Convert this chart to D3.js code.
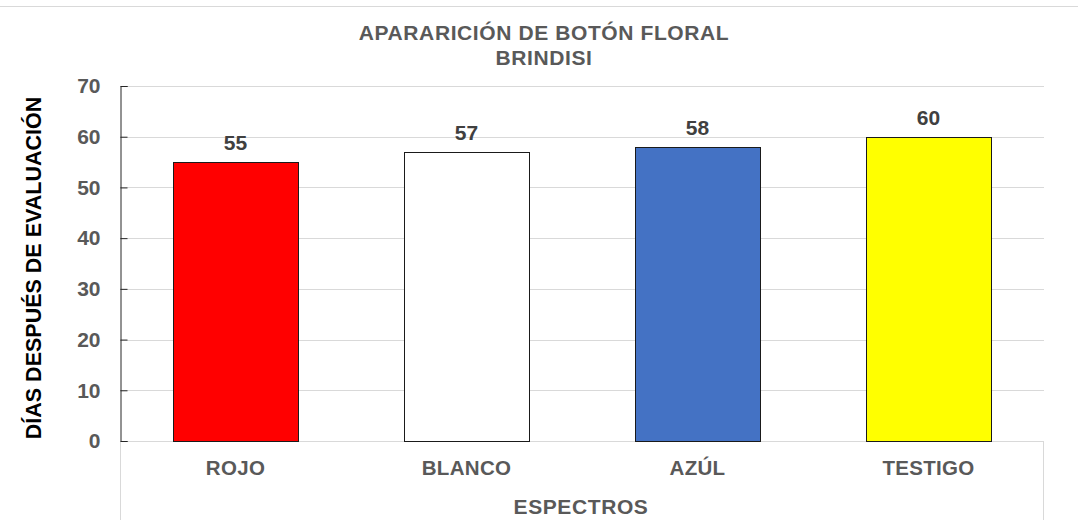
<!DOCTYPE html>
<html>
  <head>
    <meta charset="utf-8">
    <script src="https://d3js.org/d3.v7.min.js"></script>
    <style>
      body { margin: 0px; background: #fff; }
      text { font-family: 'Liberation Sans', Arial, sans-serif; font-weight: bold; }
    </style>
  </head>
  <body>
    <svg width="1078" height="523"></svg>
    <script>
      const categories = ['ROJO', 'BLANCO', 'AZÚL', 'TESTIGO'];
      const values = [55, 57, 58, 60];
      const colors = ['#ff0000', '#ffffff', '#4472c4', '#ffff00'];
      const yTicks = [0, 10, 20, 30, 40, 50, 60, 70];

      const svg = d3.select('svg');
      const plotLeft = 120, plotRight = 1044, plotTop = 86, plotBottom = 441;

      // chart frame line at the top
      svg.append('line')
          .attr('x1', 0).attr('x2', 1078).attr('y1', 6.5).attr('y2', 6.5)
          .attr('stroke', '#d9d9d9');

      const x = d3.scaleBand().domain(categories).range([plotLeft, plotRight]).paddingInner(0.46).paddingOuter(0.23);
      const y = d3.scaleLinear().domain([0, 70]).range([plotBottom, plotTop]);

      // gridlines
      svg.append('g').selectAll('line').data(yTicks).enter().append('line')
          .attr('x1', plotLeft).attr('x2', plotRight)
          .attr('y1', d => Math.round(y(d)) + 0.5).attr('y2', d => Math.round(y(d)) + 0.5)
          .attr('stroke', '#d9d9d9');

      // category separator lines below axis
      svg.append('line').attr('x1', plotLeft + 0.5).attr('x2', plotLeft + 0.5).attr('y1', plotBottom).attr('y2', 520).attr('stroke', '#d9d9d9');
      svg.append('line').attr('x1', plotRight - 0.5).attr('x2', plotRight - 0.5).attr('y1', plotBottom).attr('y2', 520).attr('stroke', '#d9d9d9');

      // bars
      svg.append('g').selectAll('rect').data(values).enter().append('rect')
          .attr('x', (d, i) => Math.round(x(categories[i])) + 0.5)
          .attr('y', d => Math.round(y(d)) + 0.5)
          .attr('width', Math.round(x.bandwidth()))
          .attr('height', d => Math.round(y(0)) - Math.round(y(d)))
          .attr('fill', (d, i) => colors[i])
          .attr('stroke', '#1a1a1a')
          .attr('stroke-width', 1);

      // value labels
      svg.append('g').selectAll('text').data(values).enter().append('text')
          .attr('x', (d, i) => x(categories[i]) + x.bandwidth() / 2)
          .attr('y', d => y(d) - 12)
          .attr('text-anchor', 'middle')
          .attr('font-size', 21)
          .attr('fill', '#404040')
          .text(d => d);

      // y axis
      const yAxis = d3.axisLeft(y).tickValues(yTicks).tickSize(-7).tickPadding(20);
      const yAxisG = svg.append('g').attr('transform', `translate(${plotLeft + 0.5},0)`).call(yAxis);
      yAxisG.select('.domain').attr('stroke', '#262626');
      yAxisG.selectAll('.tick line').attr('stroke', '#262626');
      yAxisG.selectAll('.tick text')
          .attr('font-size', 21)
          .attr('fill', '#595959')
          .attr('font-family', "'Liberation Sans', Arial, sans-serif")
          .attr('font-weight', 'bold');

      // x labels
      svg.append('g').selectAll('text').data(categories).enter().append('text')
          .attr('x', d => x(d) + x.bandwidth() / 2)
          .attr('y', 475)
          .attr('text-anchor', 'middle')
          .attr('font-size', 20.5)
          .attr('letter-spacing', 0.3)
          .attr('fill', '#595959')
          .text(d => d);

      // titles
      svg.append('text').attr('x', 544).attr('y', 40).attr('text-anchor', 'middle')
          .attr('font-size', 21).attr('letter-spacing', 0.6).attr('fill', '#595959')
          .text('APARARICIÓN DE BOTÓN FLORAL');
      svg.append('text').attr('x', 544).attr('y', 65).attr('text-anchor', 'middle')
          .attr('font-size', 21).attr('letter-spacing', 0.6).attr('fill', '#595959')
          .text('BRINDISI');

      svg.append('text').attr('x', 581).attr('y', 514).attr('text-anchor', 'middle')
          .attr('font-size', 21).attr('letter-spacing', 0.6).attr('fill', '#595959')
          .text('ESPECTROS');

      svg.append('text')
          .attr('transform', 'translate(41,268) rotate(-90)')
          .attr('text-anchor', 'middle')
          .attr('font-size', 21.5).attr('fill', '#000')
          .text('DÍAS DESPUÉS DE EVALUACIÓN');
    </script>
  </body>
</html>
